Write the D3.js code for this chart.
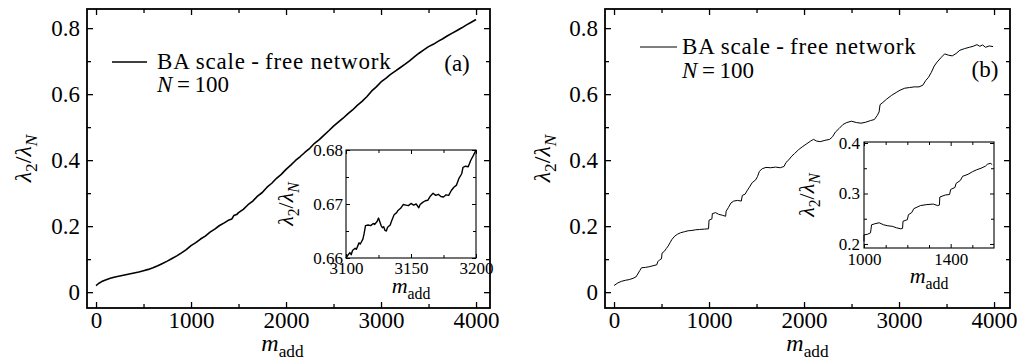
<!DOCTYPE html>
<html><head><meta charset="utf-8">
<script src="https://cdn.jsdelivr.net/npm/d3@7"></script>
<style>
body{margin:0;background:#fff}
svg{display:block}
svg text{font-family:"Liberation Serif","DejaVu Serif","Times New Roman",serif;fill:#000}
</style>
</head><body>
<svg id="c" width="1017" height="363"></svg>
<script>
// ---------------- data ----------------
const mainXTicks = [0, 1000, 2000, 3000, 4000];
const mainXMinor = [500, 1500, 2500, 3500];
const mainYTicks = [0, 0.2, 0.4, 0.6, 0.8];
const mainYMinor = [0.1, 0.3, 0.5, 0.7];

const seriesA = [
[0,0.020],[30,0.027],[60,0.032],[100,0.037],[150,0.042],[200,0.046],[250,0.049],[300,0.052],
[350,0.055],[400,0.058],[450,0.061],[500,0.065],[550,0.069],[600,0.074],[650,0.080],[700,0.087],
[750,0.094],[800,0.102],[850,0.110],[900,0.119],[950,0.129],[1000,0.141],[1050,0.150],[1100,0.161],
[1150,0.170],[1200,0.182],[1250,0.191],[1300,0.202],[1350,0.210],[1400,0.219],[1430,0.222],
[1450,0.232],[1480,0.235],[1500,0.241],[1550,0.251],[1600,0.265],[1650,0.276],[1700,0.291],
[1750,0.302],[1800,0.318],[1850,0.330],[1900,0.345],[1950,0.357],[2000,0.372],[2050,0.385],
[2100,0.399],[2150,0.411],[2200,0.424],[2250,0.436],[2300,0.451],[2350,0.462],[2400,0.476],
[2450,0.489],[2500,0.503],[2550,0.515],[2600,0.527],[2650,0.540],[2700,0.552],[2750,0.566],
[2800,0.578],[2850,0.592],[2900,0.609],[2950,0.622],[3000,0.637],[3050,0.648],[3100,0.660],
[3150,0.670],[3200,0.680],[3250,0.690],[3300,0.701],[3350,0.713],[3400,0.724],[3450,0.734],
[3500,0.744],[3550,0.751],[3600,0.760],[3650,0.768],[3700,0.777],[3750,0.785],[3800,0.793],
[3850,0.801],[3900,0.810],[3950,0.818],[4000,0.826]
];

const insetAXTicks = [3100, 3150, 3200];
const insetAXMinor = [3125, 3175];
const insetAYTicks = [0.66, 0.67, 0.68];
const insetAYMinor = [0.665, 0.675];
const insetASeries = [
[3100,0.6600],[3102,0.6607],[3103,0.6610],[3104,0.6606],[3105,0.6614],[3107,0.6618],[3108,0.6616],
[3110,0.6628],[3111,0.6626],[3113,0.6635],[3114,0.6646],[3115,0.6660],[3117,0.6661],[3119,0.6660],
[3121,0.6664],[3122,0.6662],[3124,0.6668],[3125,0.6674],[3126,0.6667],[3127,0.6660],[3128,0.6656],
[3129,0.6658],[3130,0.6651],[3131,0.6650],[3132,0.6657],[3134,0.6661],[3135,0.6668],[3137,0.6680],
[3139,0.6684],[3140,0.6688],[3142,0.6692],[3144,0.6699],[3146,0.6698],[3148,0.6697],[3150,0.6701],
[3152,0.6698],[3154,0.6700],[3156,0.6693],[3157,0.6699],[3159,0.6703],[3161,0.6706],[3163,0.6707],
[3165,0.6715],[3167,0.6720],[3169,0.6716],[3171,0.6718],[3173,0.6714],[3175,0.6713],[3177,0.6717],
[3179,0.6716],[3181,0.6725],[3183,0.6731],[3185,0.6735],[3187,0.6748],[3189,0.6756],[3190,0.6768],
[3192,0.6770],[3194,0.6769],[3196,0.6781],[3198,0.6790],[3200,0.6800]
];

const seriesB = [
[0,0.020],[40,0.028],[80,0.033],[120,0.036],[160,0.038],[200,0.042],[230,0.046],[250,0.055],
[270,0.065],[290,0.074],[330,0.075],[370,0.077],[410,0.080],[450,0.083],[460,0.092],[480,0.098],
[500,0.101],[505,0.118],[530,0.124],[550,0.132],[570,0.140],[590,0.150],[610,0.160],[640,0.170],
[670,0.176],[700,0.180],[740,0.183],[780,0.186],[820,0.187],[860,0.189],[900,0.190],[950,0.191],
[995,0.192],[1000,0.218],[1030,0.222],[1035,0.238],[1070,0.241],[1100,0.236],[1140,0.233],
[1175,0.230],[1180,0.245],[1205,0.257],[1230,0.270],[1260,0.276],[1300,0.278],[1340,0.276],
[1350,0.293],[1380,0.297],[1400,0.307],[1425,0.318],[1455,0.332],[1490,0.340],[1510,0.350],
[1530,0.366],[1560,0.374],[1600,0.378],[1650,0.377],[1700,0.379],[1750,0.377],[1790,0.381],
[1810,0.393],[1840,0.401],[1870,0.412],[1900,0.420],[1940,0.431],[1980,0.440],[2030,0.450],
[2070,0.458],[2100,0.463],[2130,0.458],[2170,0.456],[2220,0.460],[2270,0.463],[2300,0.471],
[2330,0.485],[2370,0.496],[2410,0.508],[2450,0.514],[2500,0.518],[2550,0.514],[2600,0.512],
[2650,0.515],[2700,0.520],[2740,0.523],[2770,0.535],[2790,0.546],[2800,0.568],[2830,0.575],
[2870,0.585],[2920,0.596],[2970,0.605],[3010,0.612],[3060,0.618],[3110,0.620],[3160,0.622],
[3210,0.622],[3250,0.627],[3280,0.641],[3310,0.651],[3340,0.666],[3370,0.685],[3400,0.697],
[3440,0.710],[3480,0.722],[3520,0.718],[3560,0.716],[3600,0.723],[3640,0.733],[3690,0.738],
[3740,0.742],[3780,0.745],[3820,0.750],[3850,0.745],[3880,0.749],[3910,0.742],[3950,0.746],
[3990,0.744]
];

const insetBXTicks = [1000, 1400];
const insetBXMinor = [1100, 1200, 1300, 1500];
const insetBYTicks = [0.2, 0.3, 0.4];
const insetBYMinor = [0.25, 0.35];
const insetBSeries = [
[1000,0.205],[1000,0.218],[1015,0.219],[1030,0.222],[1035,0.238],[1050,0.240],[1070,0.242],
[1090,0.238],[1110,0.236],[1130,0.235],[1150,0.232],[1170,0.230],[1178,0.231],[1180,0.245],
[1200,0.248],[1205,0.258],[1220,0.262],[1230,0.270],[1245,0.273],[1260,0.276],[1290,0.278],
[1320,0.279],[1340,0.276],[1348,0.277],[1350,0.293],[1375,0.297],[1395,0.298],[1400,0.308],
[1420,0.312],[1425,0.320],[1445,0.326],[1455,0.334],[1480,0.338],[1500,0.343],[1520,0.347],
[1540,0.350],[1560,0.354],[1570,0.358],[1585,0.360],[1590,0.357]
];

const legendLabel = "BA scale\u2009-\u2009free network";
const legendN = "\u2009=\u2009100";

// ---------------- drawing ----------------
const svg = d3.select("#c");
const FONT = '"Liberation Serif","DejaVu Serif",serif';
const fmt1 = d => d === 0 ? "0" : d3.format(".1f")(d);
const fmt2 = d3.format(".2f");

function richText(sel, parts, fs) {
  let sub = false;
  parts.forEach(p => {
    const t = sel.append("tspan").text(p.t);
    if (p.it) t.attr("font-style", "italic");
    if (p.sub && !sub) { t.attr("dy", 0.25 * fs); sub = true; }
    else if (!p.sub && sub) { t.attr("dy", -0.25 * fs); sub = false; }
    t.attr("font-size", p.sub ? fs * 0.72 : fs);
  });
}
const yLabParts = [{t:"\u03bb",it:true},{t:"2",sub:true},{t:"/"},{t:"\u03bb",it:true},{t:"N",it:true,sub:true}];
const xLabParts = [{t:"m",it:true},{t:"add",sub:true}];

function panel(c) {
  const g = svg.append("g").attr("transform", `translate(${c.left},${c.top})`);
  const x = d3.scaleLinear().domain(c.xDomain).range([0, c.w]);
  const y = d3.scaleLinear().domain(c.yDomain).range([c.h, 0]);
  g.append("rect").attr("width", c.w).attr("height", c.h).attr("fill", "#fff");

  const axes = [
    [d3.axisBottom(x).tickValues(c.xTicks).tickSize(-c.maj).tickPadding(c.xPad).tickFormat(c.xFmt), `translate(0,${c.h})`],
    [d3.axisBottom(x).tickValues(c.xMinor).tickSize(-c.min).tickFormat(""), `translate(0,${c.h})`],
    [d3.axisTop(x).tickValues(c.xTicks).tickSize(-c.maj).tickFormat(""), null],
    [d3.axisTop(x).tickValues(c.xMinor).tickSize(-c.min).tickFormat(""), null],
    [d3.axisLeft(y).tickValues(c.yTicks).tickSize(-c.maj).tickPadding(c.yPad).tickFormat(c.yFmt), null],
    [d3.axisLeft(y).tickValues(c.yMinor).tickSize(-c.min).tickFormat(""), null],
    [d3.axisRight(y).tickValues(c.yTicks).tickSize(-c.maj).tickFormat(""), `translate(${c.w},0)`],
    [d3.axisRight(y).tickValues(c.yMinor).tickSize(-c.min).tickFormat(""), `translate(${c.w},0)`]
  ];
  axes.forEach(([ax, tr]) => {
    const a = g.append("g");
    if (tr) a.attr("transform", tr);
    a.call(ax);
    a.attr("font-family", FONT);
    a.select(".domain").remove();
    a.selectAll("line").attr("stroke", "#000").attr("stroke-width", c.tickW);
    a.selectAll("text").attr("font-size", c.tickFs).attr("fill", "#000");
  });

  g.append("path").datum(c.data)
    .attr("fill", "none").attr("stroke", "#000").attr("stroke-width", c.lineW)
    .attr("stroke-linejoin", "round")
    .attr("d", d3.line().x(d => x(d[0])).y(d => y(d[1])));

  g.append("rect").attr("width", c.w).attr("height", c.h)
    .attr("fill", "none").attr("stroke", "#000").attr("stroke-width", c.frameW);

  const xl = g.append("text").attr("x", c.w / 2 + c.xLabDx).attr("y", c.xLabY).attr("text-anchor", "middle");
  richText(xl, xLabParts, c.labFs);
  const yl = g.append("text").attr("text-anchor", "middle")
    .attr("transform", `translate(${c.yLabX},${c.h / 2 + c.yLabDy}) rotate(-90)`);
  richText(yl, yLabParts, c.labFs);
  return {g, x, y};
}

const mainCommon = {w: 403, h: 299, top: 9, xDomain: [-95, 4147], yDomain: [-0.048, 0.858],
  xTicks: mainXTicks, xMinor: mainXMinor, yTicks: mainYTicks, yMinor: mainYMinor,
  xFmt: d3.format("d"), yFmt: fmt1, maj: 6, min: 4, xPad: 4, yPad: 7, tickW: 1.3, frameW: 1.8,
  tickFs: 23, labFs: 24, xLabY: 342, xLabDx: 0, yLabDy: 0};

function legend(g, lx1, lx2, ly, tx, ty1, ty2, lw) {
  g.append("line").attr("x1", lx1).attr("x2", lx2).attr("y1", ly).attr("y2", ly)
    .attr("stroke", "#000").attr("stroke-width", lw);
  g.append("text").attr("x", tx).attr("y", ty1).attr("font-size", 23)
    .attr("letter-spacing", "0.8px").text(legendLabel);
  const n = g.append("text").attr("x", tx).attr("y", ty2).attr("font-size", 23);
  n.append("tspan").attr("font-style", "italic").text("N");
  n.append("tspan").text(legendN);
}

// panel (a)
const A = panel(Object.assign({}, mainCommon, {left: 87, data: seriesA, lineW: 1.6, yLabX: -56, xLabDx: -6}));
legend(A.g, 25, 60, 53, 70, 60, 83, 1.6);
A.g.append("text").attr("x", 370).attr("y", 62).attr("font-size", 23).attr("text-anchor", "middle").text("(a)");

// inset (a)
panel({left: 346, top: 150, w: 130, h: 108, xDomain: [3100, 3200], yDomain: [0.66, 0.68],
  xTicks: insetAXTicks, xMinor: insetAXMinor, yTicks: insetAYTicks, yMinor: insetAYMinor,
  xFmt: d3.format("d"), yFmt: fmt2, maj: 4, min: 3, xPad: 4, yPad: 3, tickW: 1, frameW: 1.1,
  tickFs: 17, labFs: 22, xLabY: 143, xLabDx: 0, yLabX: -53, yLabDy: 0,
  data: insetASeries, lineW: 1.4});

// panel (b)
const B = panel(Object.assign({}, mainCommon, {left: 605, w: 405, xDomain: [-95, 4168], data: seriesB, lineW: 1.0, yLabX: -55}));
legend(B.g, 35, 72, 38, 77, 45, 69, 1.0);
B.g.append("text").attr("x", 380).attr("y", 68).attr("font-size", 23).attr("text-anchor", "middle").text("(b)");

// inset (b)
panel({left: 864, top: 142, w: 130, h: 106, xDomain: [1000, 1600], yDomain: [0.192, 0.402],
  xTicks: insetBXTicks, xMinor: insetBXMinor, yTicks: insetBYTicks, yMinor: insetBYMinor,
  xFmt: d3.format("d"), yFmt: fmt1, maj: 4, min: 3, xPad: 5, yPad: 4, tickW: 1, frameW: 1.1,
  tickFs: 17, labFs: 22, xLabY: 141, xLabDx: 0, yLabX: -50, yLabDy: 0,
  data: insetBSeries, lineW: 1.0});
</script>
</body></html>
